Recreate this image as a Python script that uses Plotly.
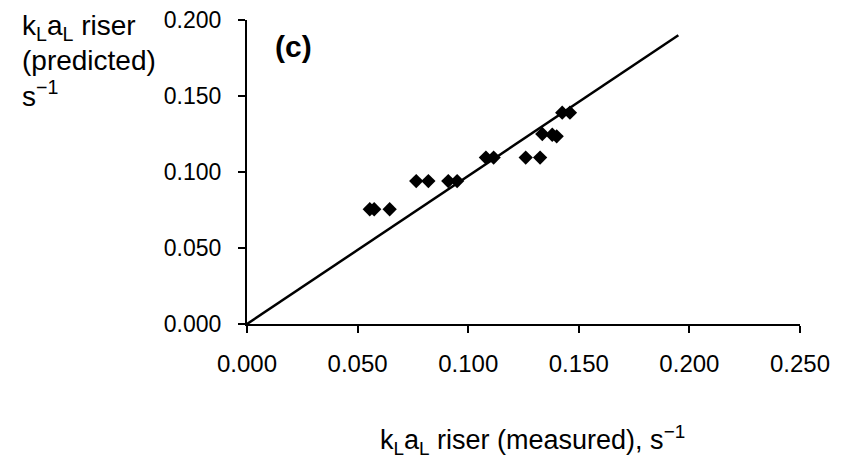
import plotly.graph_objects as go

# Data
measured = [0.0555, 0.0575, 0.0645, 0.0765, 0.0820, 0.0910, 0.0950,
            0.1080, 0.1115, 0.1260, 0.1325, 0.1335, 0.1380, 0.1400,
            0.1425, 0.1460]
predicted = [0.0755, 0.0755, 0.0755, 0.0940, 0.0940, 0.0940, 0.0940,
             0.1095, 0.1095, 0.1095, 0.1095, 0.1250, 0.1245, 0.1235,
             0.1390, 0.1390]
line_x = [0.0, 0.195]
line_y = [0.0, 0.190]

x_ticks = [0.0, 0.05, 0.10, 0.15, 0.20, 0.25]
y_ticks = [0.0, 0.05, 0.10, 0.15, 0.20]
x_tick_text = ["0.000", "0.050", "0.100", "0.150", "0.200", "0.250"]
y_tick_text = ["0.000", "0.050", "0.100", "0.150", "0.200"]

FONT = "Liberation Sans, Arial, sans-serif"

fig = go.Figure()
fig.add_trace(go.Scatter(x=line_x, y=line_y, mode="lines",
                         line=dict(color="black", width=2.5),
                         showlegend=False, hoverinfo="skip"))
fig.add_trace(go.Scatter(x=measured, y=predicted, mode="markers",
                         marker=dict(symbol="diamond", size=11, color="black",
                                     line=dict(width=0)),
                         showlegend=False))

W, H = 849, 459
L, R, T, B = 247, 49, 20, 135
pw = W - L - R
ph = H - T - B

def px_to_paper_x(px):
    return (px - L) / pw

def px_to_paper_y(py):
    return (H - B - py) / ph

fig.update_layout(
    width=W, height=H,
    margin=dict(l=L, r=R, t=T, b=B, autoexpand=False),
    paper_bgcolor="white", plot_bgcolor="white",
    font=dict(family=FONT, size=23, color="black"),
    xaxis=dict(range=[0, 0.25], tickvals=x_ticks, ticktext=x_tick_text,
               showgrid=False, zeroline=False, showline=True,
               linecolor="black", linewidth=2, ticks="outside",
               ticklen=7, tickwidth=2, tickcolor="black",
               ticklabelstandoff=10, tickfont=dict(size=24)),
    yaxis=dict(range=[0, 0.2], tickvals=y_ticks, ticktext=y_tick_text,
               showgrid=False, zeroline=False, showline=True,
               linecolor="black", linewidth=2, ticks="outside",
               ticklen=7, tickwidth=2, tickcolor="black",
               ticklabelstandoff=12, tickfont=dict(size=23)),
)

ann = []
# y-axis title (three lines, top-left)
for text, py in [("k<sub>L</sub>a<sub>L</sub> riser", 28),
                 ("(predicted)", 61),
                 ("s<sup>−1</sup>", 94)]:
    ann.append(dict(text=text, xref="paper", yref="paper",
                    x=px_to_paper_x(20), y=px_to_paper_y(py),
                    xanchor="left", yanchor="middle", showarrow=False,
                    font=dict(size=28, family=FONT)))
# x-axis title
ann.append(dict(text="k<sub>L</sub>a<sub>L</sub> riser (measured), s<sup>−1</sup>",
                xref="paper", yref="paper",
                x=px_to_paper_x(532), y=px_to_paper_y(440),
                xanchor="center", yanchor="middle", showarrow=False,
                font=dict(size=27, family=FONT)))
# panel label
ann.append(dict(text="<b>(c)</b>", xref="paper", yref="paper",
                x=px_to_paper_x(293), y=px_to_paper_y(47),
                xanchor="center", yanchor="middle", showarrow=False,
                font=dict(size=30, family=FONT)))
fig.update_layout(annotations=ann)

fig.write_html("out.html")
